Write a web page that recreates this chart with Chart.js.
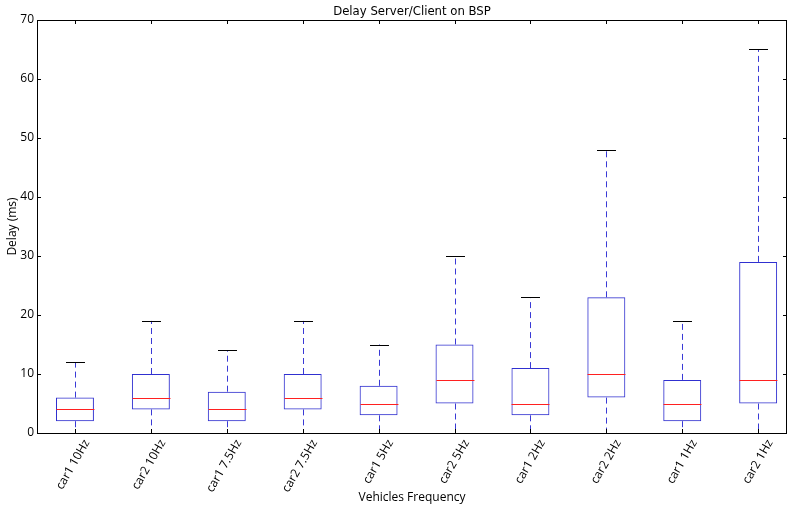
<!DOCTYPE html>
<html>
<head>
<meta charset="utf-8">
<script src="https://cdn.jsdelivr.net/npm/chart.js@4"></script>
<style>
  html, body { margin: 0; padding: 0; background: #fff; }
  #wrap { width: 788px; height: 506px; }
</style>
</head>
<body>
<div id="wrap"><canvas id="myChart" width="788" height="506"></canvas></div>
<script>
// dados do boxplot
const categories = ['car1 10Hz', 'car2 10Hz', 'car1 7.5Hz', 'car2 7.5Hz', 'car1 5Hz',
                    'car2 5Hz', 'car1 2Hz', 'car2 2Hz', 'car1 1Hz', 'car2 1Hz'];
const whiskerLow  = [0, 0, 0, 0, 0, 0, 0, 0, 0, 0];
const q1          = [2, 4, 2, 4, 3, 5, 3, 6, 2, 5];
const medians     = [4, 6, 4, 6, 5, 9, 5, 10, 5, 9];
const q3          = [6, 10, 7, 10, 8, 15, 11, 23, 9, 29];
const whiskerHigh = [12, 19, 14, 19, 15, 30, 23, 48, 19, 65];
const yTicks = [0, 10, 20, 30, 40, 50, 60, 70];

// desenha bigodes, medianas, moldura e ticks
const boxExtras = {
    id: 'boxExtras',
    afterDatasetsDraw(chart) {
        const ctx = chart.ctx;
        const xs = chart.scales.x, ys = chart.scales.y;
        const meta = chart.getDatasetMeta(0);
        ctx.save();
        categories.forEach((c, i) => {
            const x = Math.round(xs.getPixelForValue(i)) + 0.5;
            const w = meta.data[i].width;
            // bigodes tracejados
            ctx.strokeStyle = '#3a3ad6';
            ctx.lineWidth = 1;
            ctx.setLineDash([6, 4]);
            ctx.beginPath();
            ctx.moveTo(x, ys.getPixelForValue(q3[i]));
            ctx.lineTo(x, ys.getPixelForValue(whiskerHigh[i]));
            ctx.moveTo(x, ys.getPixelForValue(q1[i]));
            ctx.lineTo(x, ys.getPixelForValue(whiskerLow[i]));
            ctx.stroke();
            ctx.setLineDash([]);
            // caps
            ctx.strokeStyle = '#000';
            ctx.beginPath();
            [whiskerHigh[i], whiskerLow[i]].forEach(v => {
                const y = Math.round(ys.getPixelForValue(v)) + 0.5;
                ctx.moveTo(x - w / 4, y);
                ctx.lineTo(x + w / 4, y);
            });
            ctx.stroke();
            // mediana
            const ym = Math.round(ys.getPixelForValue(medians[i])) + 0.5;
            ctx.strokeStyle = '#ff2020';
            ctx.beginPath();
            ctx.moveTo(x - w / 2, ym);
            ctx.lineTo(x + w / 2, ym);
            ctx.stroke();
        });
        ctx.restore();
    },
    afterDraw(chart) {
        const ctx = chart.ctx;
        const a = chart.chartArea;
        const xs = chart.scales.x, ys = chart.scales.y;
        ctx.save();
        ctx.strokeStyle = '#000';
        ctx.lineWidth = 1;
        ctx.strokeRect(Math.round(a.left) + 0.5, Math.round(a.top) + 0.5,
                       Math.round(a.right - a.left) - 1, Math.round(a.bottom - a.top));
        ctx.beginPath();
        yTicks.forEach(v => {
            const y = Math.round(ys.getPixelForValue(v)) + 0.5;
            ctx.moveTo(a.left, y); ctx.lineTo(a.left + 4, y);
            ctx.moveTo(a.right, y); ctx.lineTo(a.right - 4, y);
        });
        categories.forEach((c, i) => {
            const x = Math.round(xs.getPixelForValue(i)) + 0.5;
            ctx.moveTo(x, a.top); ctx.lineTo(x, a.top + 4);
            ctx.moveTo(x, a.bottom); ctx.lineTo(x, a.bottom - 4);
        });
        ctx.stroke();
        ctx.restore();
    }
};

Chart.defaults.color = '#000';
Chart.defaults.font.family = '"Open Sans", sans-serif';
Chart.defaults.font.size = 12;

const ctx = document.getElementById('myChart').getContext('2d');
const myChart = new Chart(ctx, {
    type: 'bar',
    data: {
        datasets: [{
            data: categories.map((c, i) => ({ x: i, y: [q1[i], q3[i]] })),
            backgroundColor: 'rgba(0,0,0,0)',
            borderColor: '#3030d0',
            borderWidth: 1,
            borderSkipped: false,
            barPercentage: 0.5,
            categoryPercentage: 1
        }]
    },
    options: {
        responsive: false,
        animation: false,
        layout: { padding: { top: 0, right: 1, bottom: 0, left: 0 } },
        plugins: {
            legend: { display: false },
            tooltip: { enabled: false },
            title: {
                display: true,
                fullSize: false,
                text: 'Delay Server/Client on BSP',
                font: { family: '"DejaVu Sans Condensed", "DejaVu Sans", sans-serif', size: 13, weight: 'normal' },
                padding: { top: 4, bottom: 0.4 }
            }
        },
        scales: {
            x: {
                type: 'linear',
                min: -0.5,
                max: 9.38,
                offset: false,
                grid: { display: false, drawTicks: false },
                border: { display: false },
                afterBuildTicks: (s) => { s.ticks = categories.map((c, i) => ({ value: i })); },
                ticks: {
                    autoSkip: false,
                    maxRotation: 60, minRotation: 60, labelOffset: 12, padding: 4,
                    callback: (v) => categories[v]
                },
                title: { display: true, text: 'Vehicles Frequency', padding: { top: 0, bottom: 1 } },
                afterFit: (s) => { s.height = 73; }
            },
            y: {
                min: 0,
                max: 70,
                grid: { display: false, drawTicks: false },
                border: { display: false },
                ticks: { stepSize: 10, padding: 3 },
                title: { display: true, text: 'Delay (ms)', padding: { top: 5, bottom: 0 } },
                afterFit: (s) => { s.width = 37; }
            }
        }
    },
    plugins: [boxExtras]
});
</script>
</body>
</html>
